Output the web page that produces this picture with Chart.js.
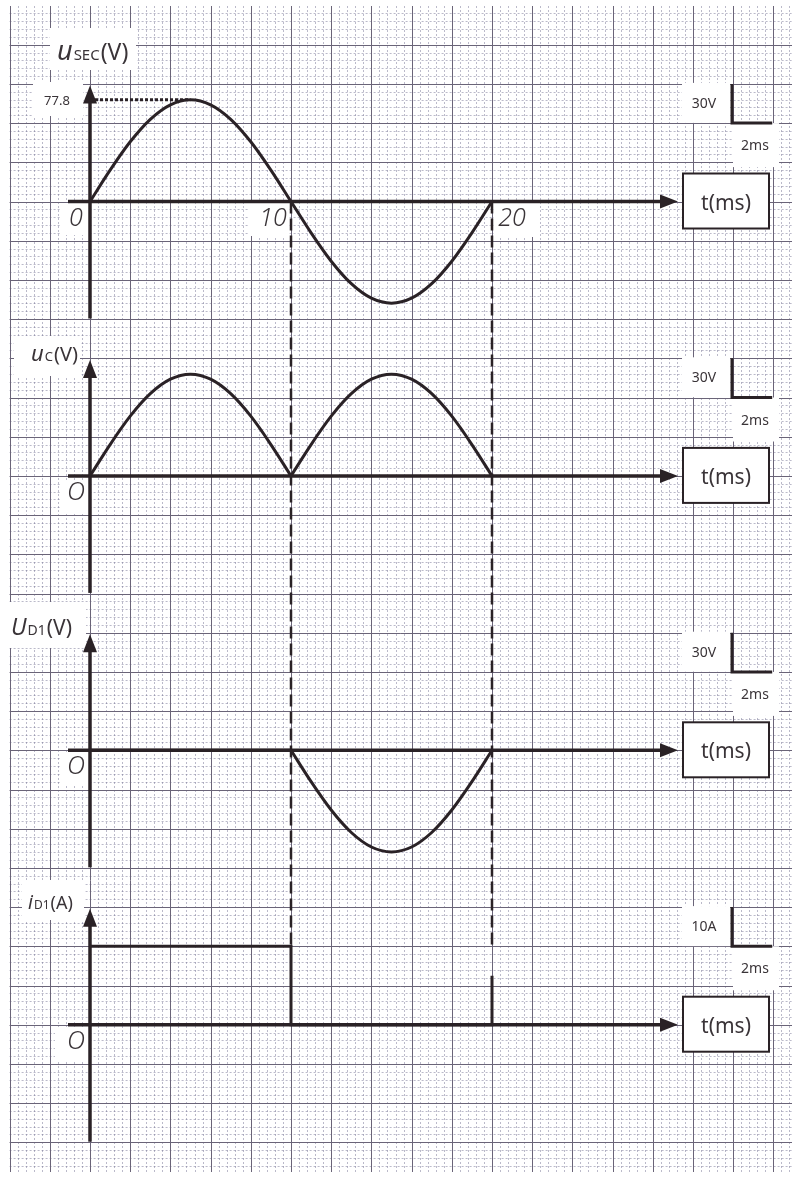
<!DOCTYPE html>
<html>
<head>
<meta charset="utf-8">
<script src="https://cdn.jsdelivr.net/npm/chart.js@4/dist/chart.umd.min.js"></script>
<style>
html, body { margin: 0; padding: 0; background: #fff; }
canvas { display: block; }
</style>
</head>
<body>
<canvas id="chart" width="798" height="1177"></canvas>
<script>
// Values, one sample per millisecond
const timeMs = [0, 1, 2, 3, 4, 5, 6, 7, 8, 9, 10, 11, 12, 13, 14, 15, 16, 17, 18, 19, 20]
const uSecValues = [0, 24.0, 45.7, 62.9, 74.0, 77.8, 74.0, 62.9, 45.7, 24.0, 0,
    -24.0, -45.7, -62.9, -74.0, -77.8, -74.0, -62.9, -45.7, -24.0, 0]
const uCValues = [0, 24.0, 45.7, 62.9, 74.0, 77.8, 74.0, 62.9, 45.7, 24.0, 0,
    24.0, 45.7, 62.9, 74.0, 77.8, 74.0, 62.9, 45.7, 24.0, 0]
const uD1Values = [0, 0, 0, 0, 0, 0, 0, 0, 0, 0, 0,
    -24.0, -45.7, -62.9, -74.0, -77.8, -74.0, -62.9, -45.7, -24.0, 0]
const iD1Time = [0, 10, 10, 20, 20]
const iD1Values = [20, 20, 0, 0, 12.5]
const peakTime = [0, 5]
const peakValue = [77.8, 77.8]
const guideTimes = [10, 20]
const timeTickLabels = [{ t: 10, text: '10' }, { t: 20, text: '20' }]
const scaleValueLabels = ['30V', '30V', '30V', '10A']
const scaleTimeLabel = '2ms'
const unitsPerDivision = [30, 30, 30, 10]
const msPerDivision = 2

// Layout of the sheet (pixels)
const W = 798
const H = 1177
const X_ZERO = 90
const DIV_X = 40.2
const DIV_Y = 39.2
const PANEL_ZERO = [201.5, 201.5 + 7 * DIV_Y, 201.5 + 14 * DIV_Y, 201.5 + 21 * DIV_Y]
const INK = '#2a2226'

const toPoints = (xs, ys) => xs.map((x, i) => ({ x, y: ys[i] }))

const pxPerMs = DIV_X / msPerDivision
const yScales = {}
PANEL_ZERO.forEach((zero, i) => {
    const pxPerUnit = DIV_Y / unitsPerDivision[i]
    yScales['y' + i] = {
        type: 'linear',
        display: false,
        min: -(H - zero) / pxPerUnit,
        max: zero / pxPerUnit
    }
})

const curve = (data, yAxisID, extra = {}) => Object.assign({
    data,
    yAxisID,
    borderColor: INK,
    borderWidth: 3,
    pointRadius: 0,
    fill: false,
    cubicInterpolationMode: 'monotone',
    borderCapStyle: 'round'
}, extra)

const pts = toPoints(timeMs, uSecValues)
const ucPts = toPoints(timeMs, uCValues)
const ud1Pts = toPoints(timeMs, uD1Values)

// graph paper + white patches behind the labels
const paperPlugin = {
    id: 'paper',
    beforeDraw(chart) {
        const ctx = chart.ctx
        ctx.save()
        ctx.fillStyle = '#fff'
        ctx.fillRect(0, 0, W, H)
        const left = 9.6, right = 792, top = 6, bottom = 1172

        // minor dashed lines
        ctx.lineWidth = 1
        ctx.strokeStyle = 'rgba(120,118,150,0.5)'
        ctx.setLineDash([2, 2])
        for (let k = -10; ; k++) {
            const x = X_ZERO + k * DIV_X / 5
            if (x > right) break
            if (x < left || k % 5 === 0) continue
            ctx.beginPath(); ctx.moveTo(Math.round(x) + 0.5, top); ctx.lineTo(Math.round(x) + 0.5, bottom); ctx.stroke()
        }
        for (let k = -30; ; k++) {
            const y = PANEL_ZERO[0] + k * DIV_Y / 5
            if (y > bottom) break
            if (y < top || k % 5 === 0) continue
            ctx.beginPath(); ctx.moveTo(left, Math.round(y) + 0.5); ctx.lineTo(right, Math.round(y) + 0.5); ctx.stroke()
        }
        // major lines
        ctx.setLineDash([])
        ctx.strokeStyle = '#6a6478'
        for (let k = -2; ; k++) {
            const x = X_ZERO + k * DIV_X
            if (x > right) break
            if (x < left - 1) continue
            ctx.beginPath(); ctx.moveTo(Math.round(x) + 0.5, top); ctx.lineTo(Math.round(x) + 0.5, bottom); ctx.stroke()
        }
        for (let k = -6; ; k++) {
            const y = PANEL_ZERO[0] + k * DIV_Y
            if (y > bottom) break
            if (y < top) continue
            ctx.beginPath(); ctx.moveTo(left, Math.round(y) + 0.5); ctx.lineTo(right, Math.round(y) + 0.5); ctx.stroke()
        }

        // white patches
        ctx.fillStyle = '#fff'
        const patches = [
            [50, 28, 86, 42], [33, 82, 50, 34], [60, 203, 30, 32], [248, 203, 40, 33], [494, 203, 46, 34],
            [14, 336, 66, 40], [60, 480, 30, 32],
            [2, 602, 84, 46], [60, 753, 30, 32],
            [22, 880, 62, 40], [55, 1027, 35, 34]
        ]
        patches.forEach(([x, y, w, h]) => ctx.fillRect(x, y, w, h))
        PANEL_ZERO.forEach(zero => {
            const top0 = zero - 3 * DIV_Y + 1
            ctx.fillRect(682, top0 - 2, 48, 40)
            ctx.fillRect(733, top0 + DIV_Y - 1, 46, 44)
        })
        ctx.restore()
    },
    beforeDatasetsDraw(chart) {
        const ctx = chart.ctx
        const xs = chart.scales.x
        ctx.save()
        ctx.strokeStyle = INK
        ctx.fillStyle = INK

        // dashed guides at 10 ms and 20 ms
        ctx.lineWidth = 2.5
        ctx.setLineDash([12, 5])
        guideTimes.forEach(t => {
            const x = xs.getPixelForValue(t)
            ctx.beginPath()
            ctx.moveTo(x, PANEL_ZERO[0])
            ctx.lineTo(x, chart.scales.y3.getPixelForValue(iD1Values[0]))
            ctx.stroke()
        })
        ctx.setLineDash([])

        // axes with arrows
        PANEL_ZERO.forEach((zero, i) => {
            const ys = chart.scales['y' + i]
            const y0 = ys.getPixelForValue(0)
            const x0 = xs.getPixelForValue(0)
            ctx.lineWidth = 3.5
            ctx.beginPath()
            ctx.moveTo(x0 - 22, y0)
            ctx.lineTo(662, y0)
            ctx.stroke()
            ctx.beginPath()
            ctx.moveTo(678, y0)
            ctx.lineTo(660, y0 - 7)
            ctx.lineTo(660, y0 + 7)
            ctx.closePath()
            ctx.fill()

            ctx.beginPath()
            ctx.moveTo(x0, y0 + 117)
            ctx.lineTo(x0, y0 - 100)
            ctx.stroke()
            ctx.beginPath()
            ctx.moveTo(x0, y0 - 116)
            ctx.lineTo(x0 - 7, y0 - 98)
            ctx.lineTo(x0 + 7, y0 - 98)
            ctx.closePath()
            ctx.fill()
        })
        ctx.restore()
    },
    afterDatasetsDraw(chart) {
        const ctx = chart.ctx
        const xs = chart.scales.x
        ctx.save()
        ctx.fillStyle = '#3a3438'
        ctx.textBaseline = 'alphabetic'

        // axis titles
        const sub = (x, y, main, mainFont, small, smallFont, tail, tailFont) => {
            ctx.font = mainFont
            ctx.fillText(main, x, y)
            x += ctx.measureText(main).width + 1
            ctx.font = smallFont
            ctx.fillText(small, x, y)
            x += ctx.measureText(small).width + 1
            ctx.font = tailFont
            ctx.fillText(tail, x, y)
        }
        sub(57, 60, 'u', 'italic 27px "Noto Sans"', 'SEC', '15px "Noto Sans"', '(V)', '23px "Noto Sans"')
        sub(31, 361, 'u', 'italic 22px "Noto Sans"', 'C', '13px "Noto Sans"', '(V)', '20px "Noto Sans"')
        sub(11, 635, 'U', 'italic 23px "Noto Sans"', 'D1', '14px "Noto Sans"', '(V)', '21px "Noto Sans"')
        sub(28, 909, 'i', 'italic 19px "Noto Sans"', 'D1', '12px "Noto Sans"', '(A)', '18px "Noto Sans"')

        // origin marks and time ticks
        ctx.font = 'italic 300 25px "Noto Sans"'
        ctx.textAlign = 'center'
        const origins = ['0', 'O', 'O', 'O']
        PANEL_ZERO.forEach((zero, i) => {
            const y0 = chart.scales['y' + i].getPixelForValue(0)
            ctx.fillText(origins[i], 76, y0 + 24)
        })
        timeTickLabels.forEach(({ t, text }) => {
            const x = xs.getPixelForValue(t)
            const y0 = chart.scales.y0.getPixelForValue(0)
            ctx.fillText(text, x + (t === 10 ? -18 : 20), y0 + 24)
        })

        // peak value
        ctx.font = '13px "Noto Sans"'
        ctx.fillText(String(peakValue[0]), 57, chart.scales.y0.getPixelForValue(peakValue[0]) + 5)

        // scale bars and t(ms) boxes
        PANEL_ZERO.forEach((zero, i) => {
            const ys = chart.scales['y' + i]
            const y0 = ys.getPixelForValue(0)
            const barTop = y0 - 3 * DIV_Y
            const bx = 732
            const by = y0 - 2 * DIV_Y
            ctx.strokeStyle = INK
            ctx.lineWidth = 3
            ctx.beginPath()
            ctx.moveTo(bx, barTop)
            ctx.lineTo(bx, by)
            ctx.lineTo(bx + DIV_X, by)
            ctx.stroke()

            ctx.fillStyle = '#3a3438'
            ctx.font = '14px "Noto Sans"'
            ctx.textAlign = 'center'
            ctx.fillText(scaleValueLabels[i], 704, barTop + 24)
            ctx.fillText(scaleTimeLabel, 755, by + 27)

            ctx.fillStyle = '#fff'
            ctx.fillRect(683, y0 - 28, 86, 55)
            ctx.lineWidth = 2
            ctx.strokeRect(683, y0 - 28, 86, 55)
            ctx.fillStyle = '#3a3438'
            ctx.font = '21px "Noto Sans"'
            ctx.fillText('t(ms)', 726, y0 + 8)
        })
        ctx.restore()
    }
}

new Chart(document.getElementById('chart'), {
    type: 'line',
    data: {
        datasets: [
            curve(pts, 'y0'),
            curve(toPoints(peakTime, peakValue), 'y0', { borderDash: [3, 2], borderWidth: 3, borderCapStyle: 'butt' }),
            curve(ucPts.slice(0, 11), 'y1'),
            curve(ucPts.slice(10), 'y1'),
            curve(ud1Pts.slice(0, 11), 'y2'),
            curve(ud1Pts.slice(10), 'y2'),
            curve(toPoints(iD1Time, iD1Values), 'y3', { cubicInterpolationMode: 'default', tension: 0, borderCapStyle: 'butt' })
        ]
    },
    options: {
        responsive: false,
        devicePixelRatio: 1,
        animation: false,
        events: [],
        layout: { padding: 0 },
        plugins: {
            legend: { display: false },
            tooltip: { enabled: false }
        },
        scales: Object.assign({
            x: {
                type: 'linear',
                display: false,
                min: -X_ZERO / pxPerMs,
                max: (W - X_ZERO) / pxPerMs
            }
        }, yScales)
    },
    plugins: [paperPlugin]
})
</script>
</body>
</html>
